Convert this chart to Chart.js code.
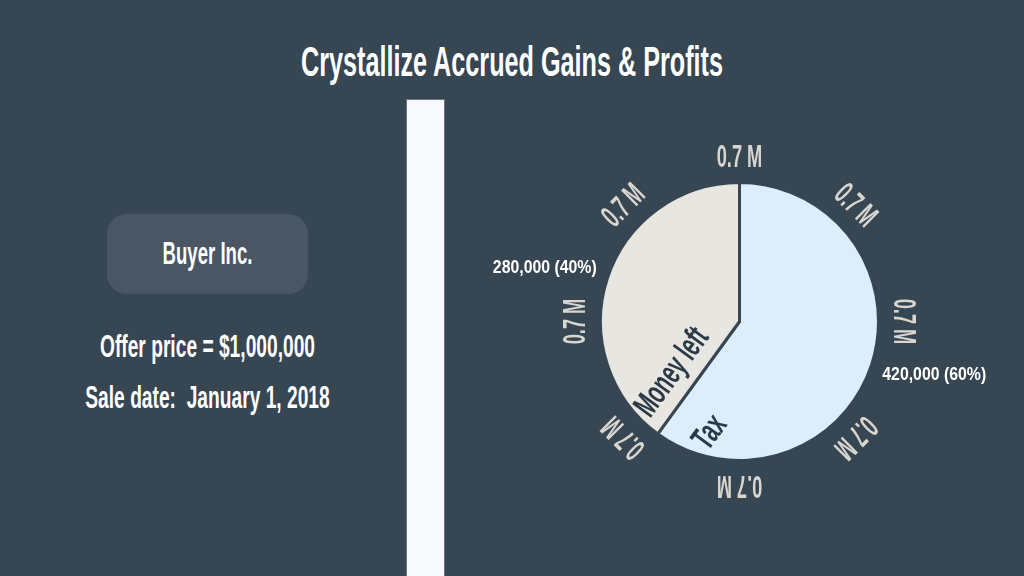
<!DOCTYPE html>
<html>
<head>
<meta charset="utf-8">
<script src="https://cdn.jsdelivr.net/npm/chart.js@4"></script>
<style>
  body { margin: 0; }
  #page {
    position: relative; width: 1024px; height: 576px; overflow: hidden;
    background: #374653; font-family: "Liberation Sans", Arial, sans-serif;
    font-weight: bold; color: #ffffff;
  }
  .txt {
    position: absolute; left: 0; text-align: center; line-height: 1;
    white-space: pre; transform: scaleX(0.6); transform-origin: center;
  }
  #title { width: 1024px; top: 41px; font-size: 42px; }
  #box {
    position: absolute; left: 107px; top: 214px; width: 201px; height: 80px;
    border-radius: 20px; background: #4a5663;
  }
  #buyer { width: 415px; top: 238px; font-size: 31px; }
  #offer { width: 415px; top: 330px; font-size: 32px; }
  #sale { width: 415px; top: 381px; font-size: 32px; }
  #bar {
    position: absolute; left: 406px; top: 99px; width: 39px; height: 490px;
    background: #f8f9fd; border: 1px solid #6b747e; box-sizing: border-box;
  }
  #wrap { position: absolute; left: 0; top: 0; width: 1024px; height: 576px; }
</style>
</head>
<body>
<div id="page">
  <div id="title" class="txt">Crystallize Accrued Gains &amp; Profits</div>
  <div id="box"></div>
  <div id="buyer" class="txt">Buyer Inc.</div>
  <div id="offer" class="txt">Offer price = $1,000,000</div>
  <div id="sale" class="txt">Sale date:  January 1, 2018</div>
  <div id="bar"></div>
  <div id="wrap"><canvas id="pie"></canvas></div>
</div>
<script>
// slices, clockwise from the top
const categories = ["Tax", "Money left"];
const values = [420000, 280000];
const sliceColors = ["#dcedfb", "#e8e6e0"];
// labels round the rim, every 45 degrees starting at the top
const ringLabels = ["0.7 M", "0.7 M", "0.7 M", "0.7 M", "0.7 M", "0.7 M", "0.7 M", "0.7 M"];

const bg = "#374653";
const squeeze = 0.6; // narrow the font to look condensed

function drawText(ctx, text, x, y, rot, size, color, sx) {
  ctx.save();
  ctx.translate(x, y);
  ctx.rotate(rot);
  ctx.scale(sx, 1);
  ctx.font = `bold ${size}px "Liberation Sans", Arial, sans-serif`;
  ctx.fillStyle = color;
  ctx.textAlign = "center";
  ctx.textBaseline = "middle";
  ctx.fillText(text, 0, 0);
  ctx.restore();
}

const pieLabels = {
  id: "pieLabels",
  afterDatasetsDraw(chart) {
    const ctx = chart.ctx;
    const meta = chart.getDatasetMeta(0);
    const first = meta.data[0].getProps(["x", "y", "outerRadius", "endAngle"], true);
    const cx = first.x, cy = first.y, R = first.outerRadius;
    const total = values.reduce((a, b) => a + b, 0);

    // rim labels
    ringLabels.forEach((t, i) => {
      const a = -Math.PI / 2 + i * Math.PI / 4;
      drawText(ctx, t, cx + Math.cos(a) * (R + 24), cy + Math.sin(a) * (R + 24),
        a + Math.PI / 2, 32, "#d9d5cf", 0.57);
    });

    // value (percent) labels outside each slice
    meta.data.forEach((arc, i) => {
      const p = arc.getProps(["startAngle", "endAngle"], true);
      const mid = (p.startAngle + p.endAngle) / 2 - 0.045;
      const txt = values[i].toLocaleString("en-US") + " (" + Math.round(values[i] / total * 100) + "%)";
      drawText(ctx, txt, cx + Math.cos(mid) * (R + 63), cy + Math.sin(mid) * (R + 63),
        0, 18, "#ffffff", 0.88);
    });

    // category names run along the divider between the slices
    const b = first.endAngle;
    const rot = b + Math.PI;
    const ux = Math.cos(rot), uy = Math.sin(rot);   // text direction
    const nx = -uy, ny = ux;                         // text "down"
    const place = (t, along, perp) => {
      drawText(ctx, t, cx + ux * along + nx * perp, cy + uy * along + ny * perp,
        rot, 34, "#2b3a47", squeeze);
    };
    place(categories[1], -0.58 * R, -0.175 * R);
    place(categories[0], -0.77 * R, 0.3 * R);
  }
};

new Chart(document.getElementById("pie"), {
  type: "pie",
  data: {
    labels: categories,
    datasets: [{
      data: values,
      backgroundColor: sliceColors,
      borderColor: bg,
      borderWidth: 3,
    }],
  },
  options: {
    responsive: true,
    maintainAspectRatio: false,
    animation: false,
    rotation: 0,
    layout: { padding: { left: 599, right: 144, top: 181, bottom: 114 } },
    plugins: {
      legend: { display: false },
      tooltip: { enabled: false },
    },
  },
  plugins: [pieLabels],
});
</script>
</body>
</html>
